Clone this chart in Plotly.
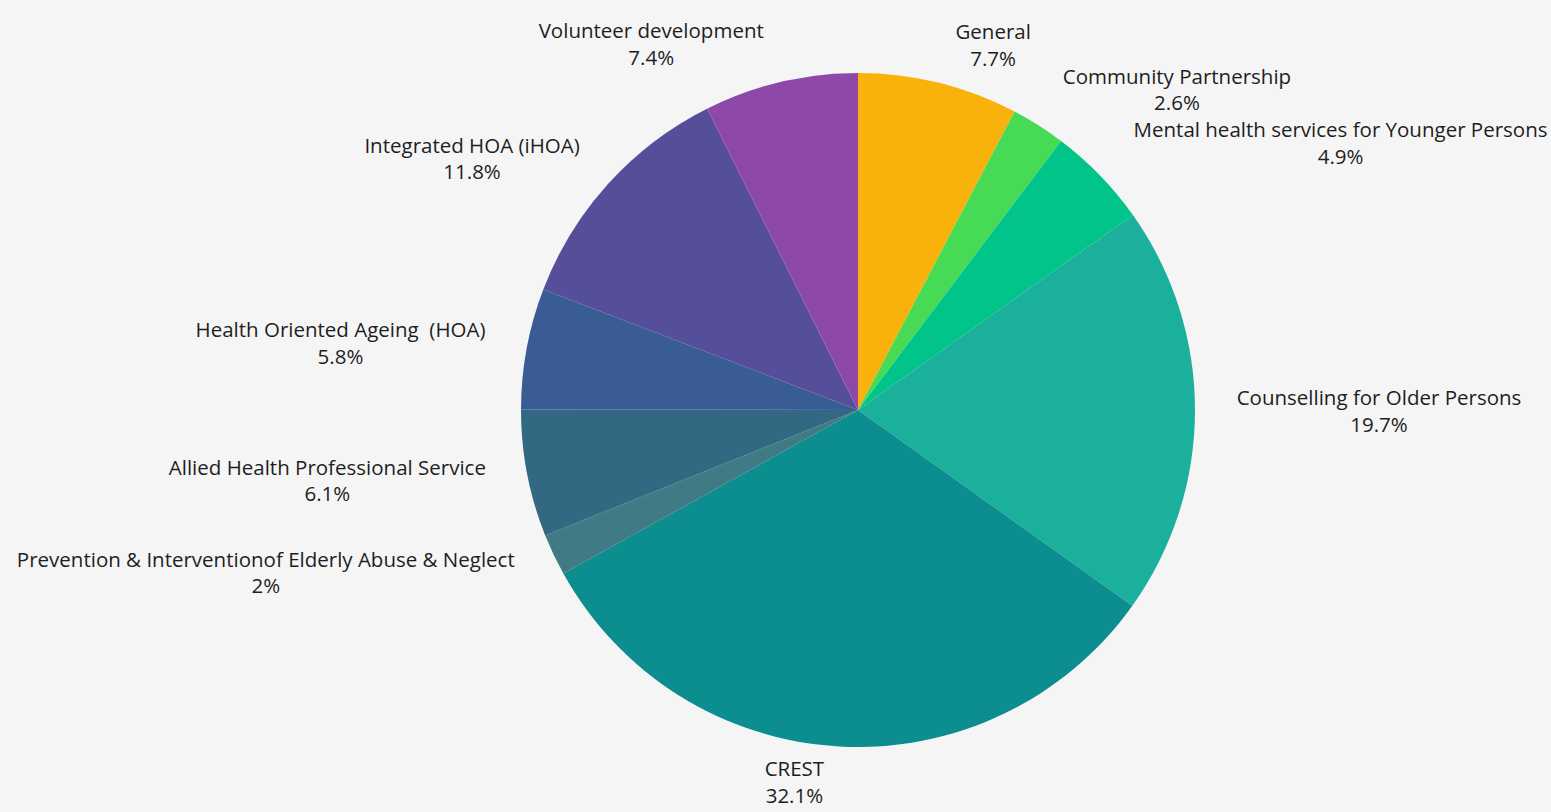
import plotly.graph_objects as go

# ---- data ----
labels = [
    "General",
    "Community Partnership",
    "Mental health services for Younger Persons",
    "Counselling for Older Persons",
    "CREST",
    "Prevention & Interventionof Elderly Abuse & Neglect",
    "Allied Health Professional Service",
    "Health Oriented Ageing  (HOA)",
    "Integrated HOA (iHOA)",
    "Volunteer development",
]
values = [7.7, 2.6, 4.9, 19.7, 32.1, 2, 6.1, 5.8, 11.8, 7.4]
colors = [
    "#F9B20C", "#47DB55", "#00C48A", "#1BB09B", "#0C8D8F",
    "#3F7A85", "#336882", "#3A5C94", "#554E9A", "#8D48A8",
]

# ---- layout / styling ----
W, H = 1551, 812
CX, CY = 858, 410        # pie centre (px from top-left)
R_PIE = 337
BG = "#F5F5F5"

# outside labels are laid out by plotly on invisible rings of these radii
LABEL_RINGS = {
    345: ["CREST"],
    350: ["General", "Volunteer development"],
    357: ["Community Partnership", "Integrated HOA (iHOA)"],
    365: ["Mental health services for Younger Persons",
          "Counselling for Older Persons",
          "Prevention & Interventionof Elderly Abuse & Neglect",
          "Allied Health Professional Service",
          "Health Oriented Ageing  (HOA)"],
}


def dom(r):
    return dict(x=[(CX - r) / W, (CX + r) / W],
                y=[1 - (CY + r) / H, 1 - (CY - r) / H])


fig = go.Figure()
fig.add_trace(go.Pie(
    labels=labels,
    values=values,
    sort=False,
    direction="clockwise",
    rotation=0,
    marker=dict(colors=colors, line=dict(width=0)),
    textinfo="none",
    hoverinfo="label+value",
    showlegend=False,
    automargin=False,
    domain=dom(R_PIE),
))

for r, names in LABEL_RINGS.items():
    fig.add_trace(go.Pie(
        labels=labels,
        values=values,
        sort=False,
        direction="clockwise",
        rotation=0,
        marker=dict(colors=["rgba(0,0,0,0)"] * len(values), line=dict(width=0)),
        textposition="outside",
        texttemplate=["%{label}<br>%{value}%" if lab in names else ""
                      for lab in labels],
        textfont=dict(family="Open Sans", size=20.5, color="#1E1E1E"),
        hoverinfo="skip",
        showlegend=False,
        automargin=False,
        domain=dom(r),
    ))

fig.update_layout(
    margin=dict(l=0, r=0, t=0, b=0, pad=0, autoexpand=False),
    paper_bgcolor=BG,
    plot_bgcolor=BG,
)

# the graph div is pinned to the top-left corner of the page at exactly
# the window size, so the page's default body margin cannot shift it
fig.write_html(
    "out.html",
    config={"displayModeBar": False, "responsive": False},
    default_width=f"{W}px",
    default_height=f"{H}px; position:fixed; left:0; top:0",
    post_script=f"document.body.style.background='{BG}';",
)
